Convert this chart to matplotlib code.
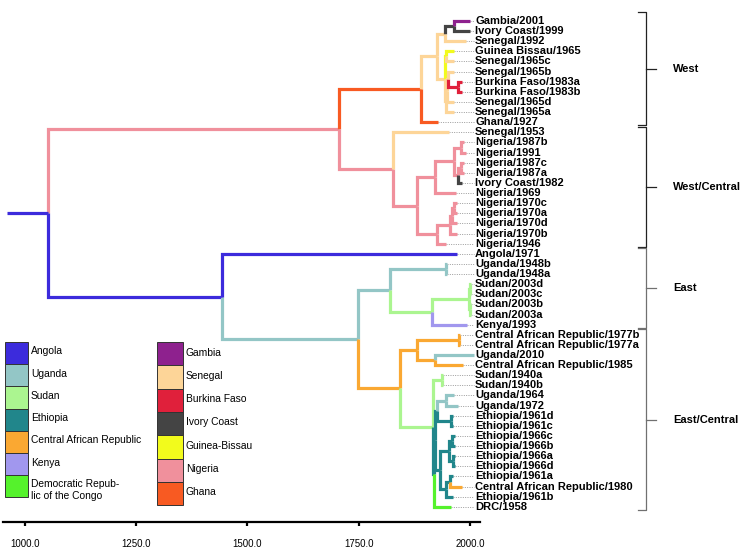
import matplotlib
matplotlib.use("Agg")
import matplotlib.pyplot as plt
from matplotlib.patches import Rectangle

plt.rcParams["font.family"] = ["Liberation Sans", "DejaVu Sans"]

COUNTRY_COLOURS = {
    "Angola": "#3c2bdc",
    "Uganda": "#93c6c6",
    "Sudan": "#abf590",
    "Ethiopia": "#21868b",
    "Central African Republic": "#faa832",
    "Kenya": "#a197ee",
    "DRC": "#55f22c",
    "Gambia": "#8e218e",
    "Senegal": "#fdd598",
    "Burkina Faso": "#e0203b",
    "Ivory Coast": "#444444",
    "Guinea-Bissau": "#f2fb1c",
    "Nigeria": "#f0909c",
    "Ghana": "#f85a22",
}
CAR = "Central African Republic"

# tips, top to bottom
LEAF_NAMES = [
    "Gambia/2001", "Ivory Coast/1999", "Senegal/1992", "Guinea Bissau/1965",
    "Senegal/1965c", "Senegal/1965b", "Burkina Faso/1983a", "Burkina Faso/1983b",
    "Senegal/1965d", "Senegal/1965a", "Ghana/1927",
    "Senegal/1953", "Nigeria/1987b", "Nigeria/1991", "Nigeria/1987c", "Nigeria/1987a",
    "Ivory Coast/1982", "Nigeria/1969", "Nigeria/1970c", "Nigeria/1970a",
    "Nigeria/1970d", "Nigeria/1970b", "Nigeria/1946",
    "Angola/1971", "Uganda/1948b", "Uganda/1948a", "Sudan/2003d", "Sudan/2003c",
    "Sudan/2003b", "Sudan/2003a", "Kenya/1993",
    "Central African Republic/1977b", "Central African Republic/1977a", "Uganda/2010",
    "Central African Republic/1985", "Sudan/1940a", "Sudan/1940b", "Uganda/1964",
    "Uganda/1972", "Ethiopia/1961d", "Ethiopia/1961c", "Ethiopia/1966c",
    "Ethiopia/1966b", "Ethiopia/1966a", "Ethiopia/1966d", "Ethiopia/1961a",
    "Central African Republic/1980", "Ethiopia/1961b", "DRC/1958",
]
LEAF_YEARS = [
    2001, 1999, 1992, 1965, 1965, 1965, 1983, 1983, 1965, 1965, 1927,
    1953, 1987, 1991, 1987, 1987, 1982, 1969, 1970, 1970, 1970, 1970, 1946,
    1971, 1948, 1948, 2003, 2003, 2003, 2003, 1993,
    1977, 1977, 2010, 1985, 1940, 1940, 1964, 1972, 1961, 1961, 1966,
    1966, 1966, 1966, 1961, 1981, 1961, 1958,
]
LEAF_COUNTRY = [
    "Gambia", "Ivory Coast", "Senegal", "Guinea-Bissau", "Senegal", "Senegal",
    "Burkina Faso", "Burkina Faso", "Senegal", "Senegal", "Ghana",
    "Senegal", "Nigeria", "Nigeria", "Nigeria", "Nigeria", "Ivory Coast", "Nigeria",
    "Nigeria", "Nigeria", "Nigeria", "Nigeria", "Nigeria",
    "Angola", "Uganda", "Uganda", "Sudan", "Sudan", "Sudan", "Sudan", "Kenya",
    CAR, CAR, "Uganda", CAR, "Sudan", "Sudan", "Uganda", "Uganda",
    "Ethiopia", "Ethiopia", "Ethiopia", "Ethiopia", "Ethiopia", "Ethiopia",
    "Ethiopia", CAR, "Ethiopia", "DRC",
]
LEAF_PARENT = [
    "d", "d", "c", "g", "g", "j", "bf", "bf", "i", "h", "west",
    "wc", "u", "u", "w", "w", "v", "r", "z", "z", "y", "x", "s",
    "er", "ug48", "ug48", "sd1", "sd1", "sd2", "sd2", "sk",
    "car77", "car77", "car2", "car2", "sud40", "sud40", "ug6", "ug6",
    "ea", "ea", "n6a", "n6a", "n6b", "n6b", "n8", "n8", "n7", "n2",
]

# internal nodes: id, parent, estimated date, branch country
NODE_IDS = [
    "root", "wwc", "west", "b", "c", "d", "f", "g", "h", "i", "j", "bf",
    "wc", "q", "r", "t", "u", "v", "w", "s", "x", "y", "z",
    "er", "e1", "e2", "ug48", "sk", "sd", "sd1", "sd2",
    "ec", "car1", "car77", "car2", "n1", "sud40", "n2", "xx", "n3", "ug6", "ea",
    "n5", "n6", "n6a", "n6b", "n7", "n8",
]
NODE_PARENT = [
    None, "root", "wwc", "west", "b", "c", "b", "f", "f", "h", "i", "j",
    "wwc", "wc", "q", "r", "t", "t", "v", "q", "s", "x", "y",
    "root", "er", "e1", "e2", "e2", "sk", "sd", "sd",
    "e1", "ec", "car1", "car1", "ec", "n1", "n1", "n2", "xx", "n3", "n3",
    "xx", "n5", "n6", "n6", "n5", "n7",
]
NODE_YEARS = [
    1052, 1706, 1891, 1926, 1943, 1965, 1943, 1946, 1947, 1949, 1951, 1972,
    1828, 1882, 1922, 1965, 1980, 1972, 1980, 1926, 1955, 1960, 1964,
    1443, 1749, 1821, 1946, 1914, 1998, 2001, 2001,
    1843, 1882, 1975, 1921, 1918, 1938, 1920, 1922, 1926, 1946, 1957,
    1932, 1952, 1960, 1962, 1945, 1956,
]
NODE_COUNTRY = [
    "Angola", "Nigeria", "Ghana", "Senegal", "Senegal", "Ivory Coast", "Senegal",
    "Guinea-Bissau", "Senegal", "Senegal", "Senegal", "Burkina Faso",
    "Nigeria", "Nigeria", "Nigeria", "Nigeria", "Nigeria", "Nigeria", "Nigeria",
    "Nigeria", "Nigeria", "Nigeria", "Nigeria",
    "Angola", "Uganda", "Uganda", "Uganda", "Sudan", "Sudan", "Sudan", "Sudan",
    CAR, CAR, CAR, CAR, "Sudan", "Sudan", "Ethiopia", "Ethiopia", "Ethiopia",
    "Uganda", "Ethiopia", "Ethiopia", "Ethiopia", "Ethiopia", "Ethiopia",
    "Ethiopia", "Ethiopia",
]
ROOT_STEM_YEAR = 960

GROUP_NAMES = ["West", "West/Central", "East", "East/Central"]
GROUP_FIRST = [0, 11, 23, 31]
GROUP_LAST = [10, 22, 30, 48]

LEGEND_LEFT = ["Angola", "Uganda", "Sudan", "Ethiopia", CAR, "Kenya", "DRC"]
LEGEND_LEFT_TEXT = ["Angola", "Uganda", "Sudan", "Ethiopia", "Central African Republic",
                    "Kenya", "Democratic Repub-\nlic of the Congo"]
LEGEND_RIGHT = ["Gambia", "Senegal", "Burkina Faso", "Ivory Coast", "Guinea-Bissau",
                "Nigeria", "Ghana"]

XTICKS = [1000, 1250, 1500, 1750, 2000]

# ---- layout of the tree (y of internal node = middle of its children)
children = {n: [] for n in NODE_IDS}
for i, p in enumerate(LEAF_PARENT):
    children[p].append(("leaf", i))
for n, p in zip(NODE_IDS, NODE_PARENT):
    if p is not None:
        children[p].append(("node", n))

node_year = dict(zip(NODE_IDS, NODE_YEARS))
node_country = dict(zip(NODE_IDS, NODE_COUNTRY))
node_y = {}


def place(n):
    ys = []
    for kind, c in children[n]:
        ys.append(float(c) if kind == "leaf" else place(c))
    node_y[n] = (min(ys) + max(ys)) / 2
    return node_y[n]


place("root")

fig = plt.figure(figsize=(7.45, 5.5), dpi=100)
ax = fig.add_axes([3 / 745, 28 / 550, 477 / 745, 522 / 550])
ax.set_xlim(950.6, 2022.5)
ax.set_ylim(49.5, -2.075)
ax.patch.set_visible(False)

LW = 2.3
for n, p in zip(NODE_IDS, NODE_PARENT):
    if p is None:
        continue
    ax.plot([node_year[p], node_year[p], node_year[n]], [node_y[p], node_y[n], node_y[n]],
            color=COUNTRY_COLOURS[node_country[n]], lw=LW, solid_joinstyle="miter",
            solid_capstyle="butt")
for i, p in enumerate(LEAF_PARENT):
    ax.plot([node_year[p], node_year[p], LEAF_YEARS[i]], [node_y[p], i, i],
            color=COUNTRY_COLOURS[LEAF_COUNTRY[i]], lw=LW, solid_joinstyle="miter",
            solid_capstyle="butt")
    ax.plot([LEAF_YEARS[i], 2009], [i, i], color="#9a9a9a", lw=0.7,
            ls=(0, (1, 1.4)), clip_on=False, zorder=0)
    ax.text(2011.5, i, LEAF_NAMES[i], fontsize=8.0, fontweight="bold",
            va="center", ha="left", clip_on=False)
ax.plot([ROOT_STEM_YEAR, node_year["root"]], [node_y["root"]] * 2,
        color=COUNTRY_COLOURS["Angola"], lw=LW, solid_capstyle="butt")

for side in ["left", "top", "right"]:
    ax.spines[side].set_visible(False)
ax.spines["bottom"].set_linewidth(1.6)
ax.set_yticks([])
ax.set_xticks(XTICKS)
ax.set_xticklabels([f"{t:.1f}" for t in XTICKS])
ax.tick_params(axis="x", direction="out", length=3, width=1.6, pad=9, labelsize=7)

# ---- clade brackets
bax = fig.add_axes([480 / 745, 28 / 550, 265 / 745, 522 / 550])
bax.set_xlim(480, 745)
bax.set_ylim(49.5, -2.075)
bax.axis("off")
for k, name in enumerate(GROUP_NAMES):
    top = GROUP_FIRST[k] - (0.9 if k == 0 else 0.55)
    bot = GROUP_LAST[k] + 0.3
    mid = (top + bot) / 2
    col = "#222222" if k < 2 else "#707070"
    bax.plot([638, 646, 646, 638], [top, top, bot, bot], color=col, lw=0.9)
    bax.plot([646, 656], [mid, mid], color=col, lw=0.9)
    bax.text(673, mid, name, fontsize=8.0, fontweight="bold", va="center", ha="left")

# ---- colour key
lax = fig.add_axes([0, 0, 1, 1])
lax.set_xlim(0, 745)
lax.set_ylim(550, 0)
lax.axis("off")
for k, (c, label) in enumerate(zip(LEGEND_LEFT, LEGEND_LEFT_TEXT)):
    y0 = 342 + k * 22.2
    lax.add_patch(Rectangle((5, y0), 23, 22.2, facecolor=COUNTRY_COLOURS[c],
                            edgecolor="#333333", lw=0.7))
    lax.text(31, y0 + 9.5 if "\n" not in label else y0 + 15, label, fontsize=7.4,
             va="center", ha="left", linespacing=1.25)
for k, c in enumerate(LEGEND_RIGHT):
    y0 = 342 + k * 23.3
    lax.add_patch(Rectangle((157, y0), 26, 23.3, facecolor=COUNTRY_COLOURS[c],
                            edgecolor="#333333", lw=0.7))
    lax.text(186, y0 + 10.5, c, fontsize=7.4, va="center", ha="left")

fig.savefig("out.png", dpi=100)
